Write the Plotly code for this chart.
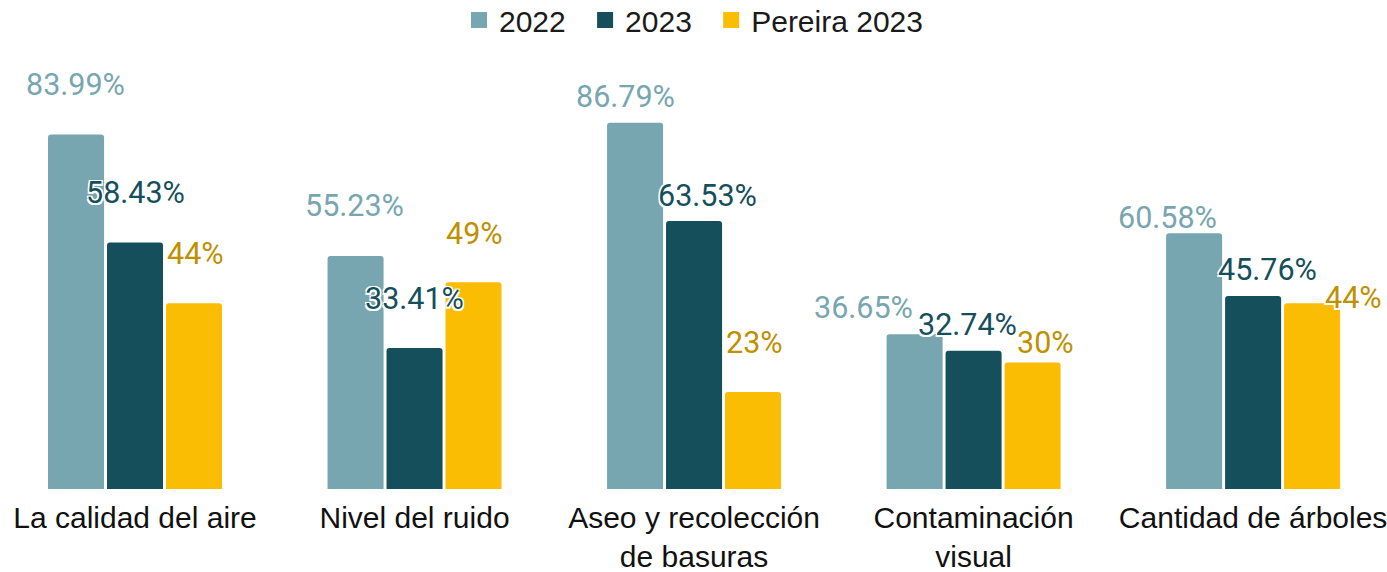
import plotly.graph_objects as go

categories = [
    "La calidad del aire",
    "Nivel del ruido",
    "Aseo y recolección<br>de basuras",
    "Contaminación<br>visual",
    "Cantidad de árboles",
]
series_names = ["2022", "2023", "Pereira 2023"]
values_2022 = [83.99, 55.23, 86.79, 36.65, 60.58]
values_2023 = [58.43, 33.41, 63.53, 32.74, 45.76]
values_pereira = [44, 49, 23, 30, 44]
labels_2022 = ["83.99%", "55.23%", "86.79%", "36.65%", "60.58%"]
labels_2023 = ["58.43%", "33.41%", "63.53%", "32.74%", "45.76%"]
labels_pereira = ["44%", "49%", "23%", "30%", "44%"]

bar_colors = ["#77A6B0", "#154F5C", "#FBBC04"]
label_colors = ["#77A6B0", "#154F5C", "#BF9000"]

# label nudges (px), the source chart has hand-placed labels
series_dx = [-60, 0, 60]
nudge_x = [
    [0, 0, -9, -50, -26],
    [0, 0, 13, -6, 14],
    [0, 0, 0, 12, 40],
]
nudge_y = [
    [50, 50, 26, 27, 16],
    [50, 50, 25, 26, 26],
    [50, 49, 49, 20, 6],
]

all_values = [values_2022, values_2023, values_pereira]
all_labels = [labels_2022, labels_2023, labels_pereira]

fig = go.Figure()
for i, name in enumerate(series_names):
    fig.add_trace(go.Bar(
        name=name,
        x=categories,
        y=all_values[i],
        marker=dict(color=bar_colors[i], cornerradius=3, line=dict(width=0)),
        hoverinfo="skip",
        showlegend=False,
    ))

# legend-only entries so the swatches can be bigger squares
# (trailing nbsp + thin space widens the gap between entries)
for i, name in enumerate(series_names):
    pad = "\u00a0\u2009" if i < len(series_names) - 1 else ""
    fig.add_trace(go.Scatter(
        name=name + pad,
        x=[None],
        y=[None],
        mode="markers",
        marker=dict(symbol="square", size=20, color=bar_colors[i]),
    ))

outline = ("-1.5px -1.5px 0 #fff, 1.5px -1.5px 0 #fff, -1.5px 1.5px 0 #fff, "
           "1.5px 1.5px 0 #fff, 0 1.5px 0 #fff, 0 -1.5px 0 #fff")
annotations = []
for i in range(3):
    for j, cat in enumerate(categories):
        annotations.append(dict(
            x=cat,
            y=all_values[i][j],
            text=all_labels[i][j],
            showarrow=False,
            xanchor="center",
            yanchor="middle",
            xshift=series_dx[i] + nudge_x[i][j],
            yshift=nudge_y[i][j],
            font=dict(family="Roboto", size=30.5, color=label_colors[i], shadow=outline),
        ))

fig.update_layout(
    width=1387,
    height=572,
    paper_bgcolor="white",
    plot_bgcolor="white",
    barmode="group",
    bargap=0.367,
    bargroupgap=0.05,
    margin=dict(l=0, r=0, t=67, b=83, autoexpand=False),
    annotations=annotations,
    showlegend=True,
    legend=dict(
        orientation="h",
        x=0.5,
        xanchor="center",
        yref="paper",
        y=1.173,
        yanchor="top",
        font=dict(family="Liberation Sans, Arial", size=30, color="#1a1a1a"),
        itemwidth=30,
        tracegroupgap=0,
    ),
    xaxis=dict(
        range=[-0.483, 4.479],
        showgrid=False,
        zeroline=False,
        showline=False,
        ticks="",
        automargin=False,
        ticklabelstandoff=8,
        tickfont=dict(family="Liberation Sans, Arial", size=30, color="#111111"),
    ),
    yaxis=dict(
        range=[0, 100],
        showgrid=False,
        zeroline=False,
        showline=False,
        automargin=False,
        showticklabels=False,
    ),
)

fig.write_html(
    "out.html",
    config={"displayModeBar": False},
    post_script="document.body.style.margin = '0';",
)
